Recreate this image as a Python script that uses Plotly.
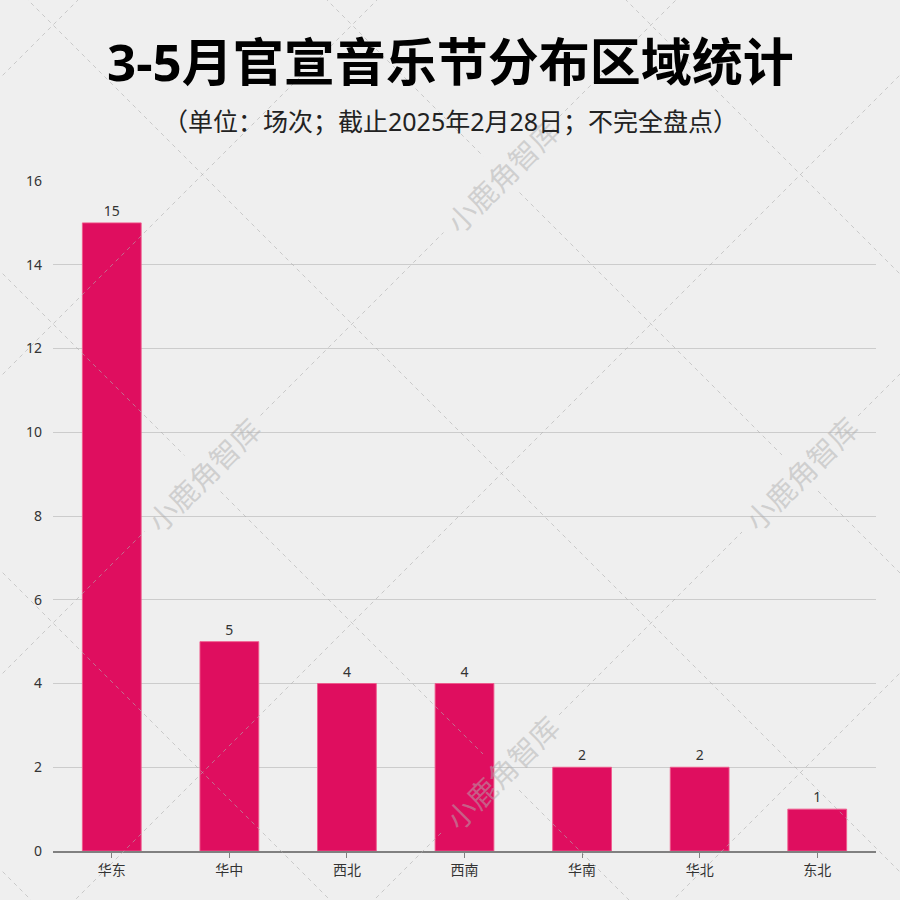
import plotly.graph_objects as go

# ---- data ----
regions = ["华东", "华中", "西北", "西南", "华南", "华北", "东北"]
counts = [15, 5, 4, 4, 2, 2, 1]
y_ticks = [0, 2, 4, 6, 8, 10, 12, 14, 16]

title_text = "3-5月官宣音乐节分布区域统计"
subtitle_text = "（单位：场次；截止2025年2月28日；不完全盘点）"
watermark_text = "小鹿角智库"

# ---- layout constants ----
W, H = 900, 900
ML, MR, MT, MB = 53, 24, 181, 49
PW, PH = W - ML - MR, H - MT - MB
BG = "#EFEFEF"
BAR = "#DF0E5F"
FONT = "Noto Sans, Noto Sans CJK SC, sans-serif"

def px(xp):
    return (xp - ML) / PW

def py(yp):
    return (H - MB - yp) / PH

fig = go.Figure()
fig.add_trace(go.Bar(
    x=regions, y=counts, width=0.5,
    marker=dict(color=BAR, line=dict(color="rgba(240,90,140,0.9)", width=1)),
    text=counts, textposition="outside", cliponaxis=False,
    textfont=dict(size=14, color="#333333", family=FONT),
    hoverinfo="skip",
))

# ---- decorative background pattern (diagonal dashed lattice + watermarks) ----
period = 299
a_base = 78     # lines y = -x + c
b_base = -28    # lines y =  x + c
wm_a = [676, 1273]
wm_b = [271, -327]
wm_centers = [((ca - cb) / 2, (ca + cb) / 2) for ca in wm_a for cb in wm_b]
gap_along = 58   # half gap (in x) for lines parallel to text
gap_across = 18  # half gap for lines crossing text

shapes = []
line_style = dict(color="rgba(175,175,175,0.6)", width=1, dash="4px,4px")

def add_segments(sign, c, gaps):
    x0, x1 = -20, W + 20
    xs = [x0]
    for g0, g1 in sorted(gaps):
        xs += [g0, g1]
    xs.append(x1)
    for i in range(0, len(xs), 2):
        a, b = xs[i], xs[i + 1]
        if b <= a:
            continue
        shapes.append(dict(
            type="line", xref="paper", yref="paper", layer="above",
            x0=px(a), y0=py(sign * a + c), x1=px(b), y1=py(sign * b + c),
            line=line_style,
        ))

for k in range(-1, 8):
    c = a_base + k * period
    gaps = [(cx - gap_along, cx + gap_along) for (cx, cy) in wm_centers
            if abs((cx + cy) - c) < 6]
    add_segments(-1, c, gaps)

for k in range(-5, 5):
    c = b_base + k * period
    gaps = [(cx - gap_across, cx + gap_across) for (cx, cy) in wm_centers
            if abs((cy - cx) - c) < 6]
    add_segments(1, c, gaps)

annotations = []
for (cx, cy) in wm_centers:
    annotations.append(dict(
        text=watermark_text, xref="paper", yref="paper",
        x=px(cx), y=py(cy), xanchor="center", yanchor="middle",
        textangle=-45, showarrow=False,
        font=dict(size=29, color="rgba(175,175,175,0.5)", family="Noto Sans CJK SC"),
    ))

annotations.append(dict(
    text="<b>" + title_text + "</b>", xref="paper", yref="paper",
    x=px(450), y=py(61), xanchor="center", yanchor="middle", showarrow=False,
    font=dict(size=51, color="#000000", family=FONT),
))
annotations.append(dict(
    text=subtitle_text, xref="paper", yref="paper",
    x=px(450), y=py(121), xanchor="center", yanchor="middle", showarrow=False,
    font=dict(size=25, color="#222222", family=FONT),
))

fig.update_layout(
    width=W, height=H,
    margin=dict(l=ML, r=MR, t=MT, b=MB, pad=0),
    paper_bgcolor=BG, plot_bgcolor=BG,
    showlegend=False,
    font=dict(family=FONT, color="#333333"),
    xaxis=dict(
        range=[-0.5, len(regions) - 0.5],
        showgrid=False, showline=True, linecolor="#808080", linewidth=2,
        ticks="outside", ticklen=5, tickcolor="#808080", tickwidth=1,
        tickfont=dict(size=14, color="#333333"),
        fixedrange=True,
    ),
    yaxis=dict(
        range=[0, 16], tickvals=y_ticks,
        showgrid=True, gridcolor="#CCCCCC", gridwidth=1,
        zeroline=False, showline=False, ticks="", ticklabelstandoff=10,
        tickfont=dict(size=14, color="#333333"),
        fixedrange=True,
    ),
    shapes=shapes,
    annotations=annotations,
)

fig.write_html(
    "out.html",
    config={"displayModeBar": False},
    post_script="document.body.style.margin='0';document.body.style.overflow='hidden';",
)
